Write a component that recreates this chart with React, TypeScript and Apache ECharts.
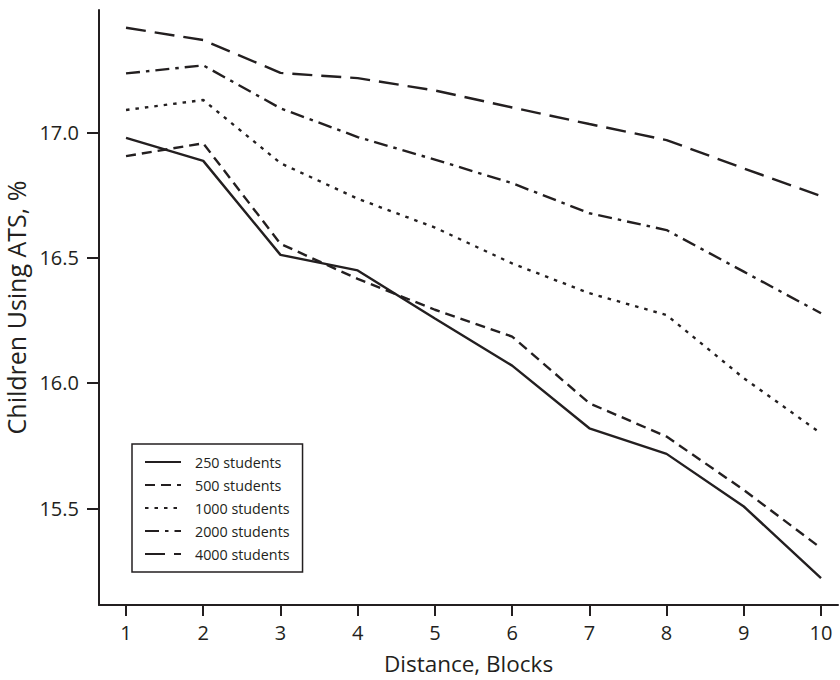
import React, { useEffect, useRef } from "react";
import * as echarts from "echarts";

const distances = [1, 2, 3, 4, 5, 6, 7, 8, 9, 10];
const s250 = [16.978, 16.886, 16.511, 16.449, 16.257, 16.069, 15.819, 15.717, 15.507, 15.221];
const s500 = [16.905, 16.956, 16.555, 16.415, 16.292, 16.185, 15.919, 15.786, 15.573, 15.341];
const s1000 = [17.089, 17.129, 16.877, 16.735, 16.62, 16.477, 16.358, 16.271, 16.019, 15.799];
const s2000 = [17.235, 17.267, 17.096, 16.981, 16.891, 16.797, 16.677, 16.61, 16.444, 16.278];
const s4000 = [17.417, 17.368, 17.237, 17.216, 17.167, 17.099, 17.033, 16.969, 16.856, 16.746];
const seriesNames = ["250 students", "500 students", "1000 students", "2000 students", "4000 students"];
const yTicks = [15.5, 16.0, 16.5, 17.0];

const INK = "#231f20";
const FONT = "'Open Sans', 'Noto Sans', sans-serif";

export default function App() {
  const ref = useRef<HTMLDivElement>(null);
  useEffect(() => {
    if (!ref.current) return;
    const chart = echarts.init(ref.current, null, { renderer: "svg" });
    const all = [s250, s500, s1000, s2000, s4000];
    const dashes: any[] = ["solid", [10, 6], [3.5, 6], [14, 6, 3.5, 6], [20, 9]];
    chart.setOption({
      animation: false,
      backgroundColor: "#ffffff",
      textStyle: { fontFamily: FONT, color: INK },
      grid: { left: 99, top: 10, right: 2, bottom: 75, containLabel: false, outerBoundsMode: "none" },
      legend: {
        orient: "vertical",
        left: 132,
        top: 444,
        data: seriesNames,
        itemWidth: 36,
        itemHeight: 14,
        itemGap: 9,
        padding: [11, 13, 11, 12],
        borderColor: INK,
        borderWidth: 1.5,
        borderRadius: 0,
        itemStyle: { opacity: 0, borderWidth: 0 },
        lineStyle: { width: 2 },
        textStyle: { fontFamily: FONT, fontSize: 14.3, color: INK, padding: [0, 0, 0, 9] },
      },
      xAxis: {
        type: "value",
        min: 0.65,
        max: 10.22,
        name: "Distance, Blocks",
        nameLocation: "middle",
        nameGap: 46,
        nameTextStyle: { fontFamily: FONT, fontSize: 22.5, lineHeight: 24, color: INK },
        axisLine: { show: true, lineStyle: { color: INK, width: 2 } },
        axisTick: { show: true, customValues: distances, length: 11, lineStyle: { color: INK, width: 2 } },
        axisLabel: { customValues: distances, margin: 17, fontSize: 20, color: INK, fontFamily: FONT },
        splitLine: { show: false },
      },
      yAxis: {
        type: "value",
        min: 15.114,
        max: 17.488,
        name: "Children Using ATS, %",
        nameLocation: "middle",
        nameGap: 55,
        nameTextStyle: { fontFamily: FONT, fontSize: 25, color: INK },
        axisLine: { show: true, lineStyle: { color: INK, width: 2 } },
        axisTick: { show: true, customValues: yTicks, length: 12, lineStyle: { color: INK, width: 2 } },
        axisLabel: {
          customValues: yTicks,
          margin: 20,
          fontSize: 20,
          color: INK,
          fontFamily: FONT,
          formatter: (v: number) => v.toFixed(1),
        },
        splitLine: { show: false },
      },
      series: all.map((vals, i) => ({
        name: seriesNames[i],
        type: "line",
        symbol: "none",
        showSymbol: false,
        data: distances.map((d, j) => [d, vals[j]]),
        lineStyle: { color: INK, width: 2.4, type: dashes[i], cap: "butt" },
        itemStyle: { color: INK },
      })),
    });
    return () => chart.dispose();
  }, []);
  return (
    <div
      ref={ref}
      style={{ position: "fixed", left: 0, top: 0, width: 840, height: 680, background: "#fff" }}
    />
  );
}
